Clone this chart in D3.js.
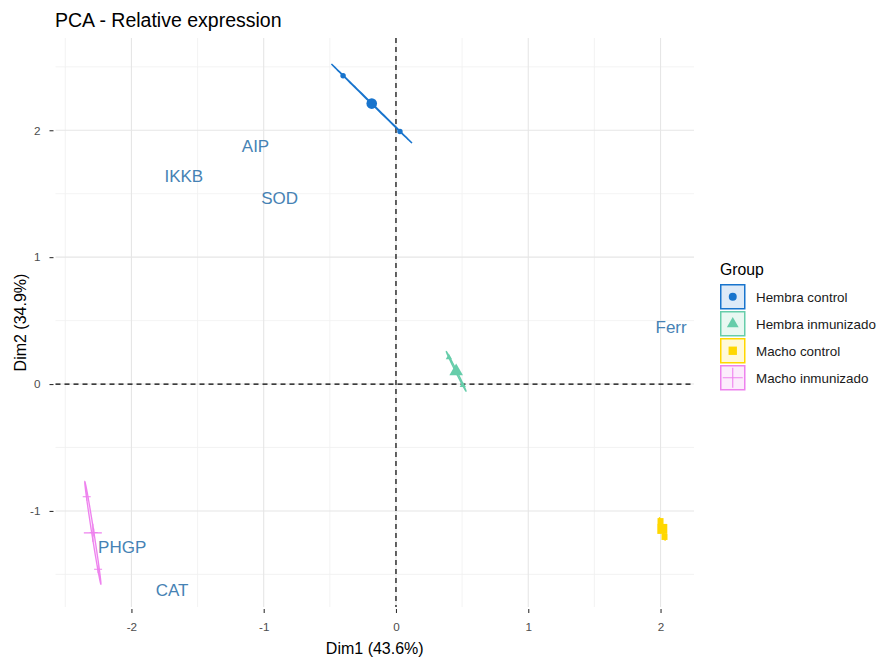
<!DOCTYPE html>
<html>
<head>
<meta charset="utf-8">
<script src="https://cdn.jsdelivr.net/npm/d3@7"></script>
<style>
  body { margin: 0; background: #fff; }
  text { font-family: "Liberation Sans", Arial, sans-serif; }
</style>
</head>
<body>
<svg id="chart" width="878" height="658"></svg>
<script>
// PCA biplot, individuals grouped + variable labels
const groups = ["Hembra control", "Hembra inmunizado", "Macho control", "Macho inmunizado"];
const groupColors = ["#1874CD", "#66CDAA", "#FFD700", "#EE82EE"];
const groupShapes = ["circle", "triangle", "square", "plus"];

// individuals [Dim1, Dim2]
const hembraControl = [[-0.40, 2.43], [-0.18, 2.21], [0.03, 1.99]];
const hembraInmunizado = [[0.40, 0.21], [0.46, 0.10], [0.505, -0.01]];
const machoControl = [[2.00, -1.08], [2.01, -1.14], [2.03, -1.205]];
const machoInmunizado = [[-2.338, -0.888], [-2.285, -1.17], [-2.252, -1.46]];
const groupPoints = [hembraControl, hembraInmunizado, machoControl, machoInmunizado];

const variables = ["AIP", "IKKB", "SOD", "Ferr", "PHGP", "CAT"];
const varDim1 = [-1.062, -1.604, -0.879, 2.08, -2.07, -1.693];
const varDim2 = [1.878, 1.639, 1.466, 0.45, -1.284, -1.623];

const xTicks = [-2, -1, 0, 1, 2];
const yTicks = [-1, 0, 1, 2];

const svg = d3.select("#chart");
const W = 878, H = 658;
const panel = { left: 55.5, right: 694, top: 38, bottom: 607 };

const x = d3.scaleLinear().domain([-2.574, 2.253]).range([panel.left, panel.right]);
const y = d3.scaleLinear().domain([-1.757, 2.727]).range([panel.bottom, panel.top]);

// grid
const g = svg.append("g");
const xMinor = d3.range(-2.5, 2.3, 0.5).filter(v => !Number.isInteger(v));
const yMinor = d3.range(-1.5, 2.8, 0.5).filter(v => !Number.isInteger(v));
g.selectAll(".xminor").data(xMinor).join("line")
  .attr("x1", d => x(d)).attr("x2", d => x(d))
  .attr("y1", panel.top).attr("y2", panel.bottom)
  .attr("stroke", "#F0F0F0").attr("stroke-width", 0.8);
g.selectAll(".yminor").data(yMinor).join("line")
  .attr("y1", d => y(d)).attr("y2", d => y(d))
  .attr("x1", panel.left).attr("x2", panel.right)
  .attr("stroke", "#F0F0F0").attr("stroke-width", 0.8);
g.selectAll(".xmajor").data(xTicks).join("line")
  .attr("x1", d => x(d)).attr("x2", d => x(d))
  .attr("y1", panel.top).attr("y2", panel.bottom)
  .attr("stroke", "#E6E6E6").attr("stroke-width", 1.1);
g.selectAll(".ymajor").data(yTicks).join("line")
  .attr("y1", d => y(d)).attr("y2", d => y(d))
  .attr("x1", panel.left).attr("x2", panel.right)
  .attr("stroke", "#E6E6E6").attr("stroke-width", 1.1);

// axes (ticks + labels only)
const xAxis = svg.append("g")
  .attr("transform", `translate(0,${panel.bottom + 2})`)
  .call(d3.axisBottom(x).tickValues(xTicks).tickSize(4).tickPadding(10).tickFormat(d3.format("d")));
const yAxis = svg.append("g")
  .attr("transform", `translate(${panel.left - 2},0)`)
  .call(d3.axisLeft(y).tickValues(yTicks).tickSize(4).tickPadding(9).tickFormat(d3.format("d")));
[xAxis, yAxis].forEach(a => {
  a.select(".domain").remove();
  a.selectAll(".tick line").attr("stroke", "#333").attr("stroke-width", 1.1);
  a.selectAll(".tick text").attr("fill", "#4D4D4D").style("font-size", "11.7px")
    .style("font-family", '"Liberation Sans", Arial, sans-serif');
});
xAxis.selectAll(".tick text").text(d => d < 0 ? "-" + Math.abs(d) : d);
yAxis.selectAll(".tick text").text(d => d < 0 ? "-" + Math.abs(d) : d);

// reference dashed lines
svg.append("line")
  .attr("x1", x(0)).attr("x2", x(0)).attr("y1", panel.top).attr("y2", panel.bottom)
  .attr("stroke", "#000").attr("stroke-width", 1.2).attr("stroke-dasharray", "5,4");
svg.append("line")
  .attr("y1", y(0)).attr("y2", y(0)).attr("x1", panel.left).attr("x2", panel.right)
  .attr("stroke", "#000").attr("stroke-width", 1.2).attr("stroke-dasharray", "5,4");

// confidence ellipse around group mean
function ellipsePath(pts) {
  const n = pts.length;
  const mx = d3.mean(pts, p => p[0]), my = d3.mean(pts, p => p[1]);
  let a = 0, b = 0, c = 0;
  pts.forEach(p => {
    const dx = p[0] - mx, dy = p[1] - my;
    a += dx * dx; b += dx * dy; c += dy * dy;
  });
  a /= (n - 1) * n; b /= (n - 1) * n; c /= (n - 1) * n;
  const tr = (a + c) / 2, det = Math.sqrt(((a - c) / 2) ** 2 + b * b);
  const l1 = tr + det, l2 = Math.max(tr - det, 0);
  const th = 0.5 * Math.atan2(2 * b, a - c);
  const k = Math.sqrt(5.991);
  const out = d3.range(0, 100).map(i => {
    const t = i / 100 * 2 * Math.PI;
    const u = k * Math.sqrt(l1) * Math.cos(t), v = k * Math.sqrt(l2) * Math.sin(t);
    return [x(mx + u * Math.cos(th) - v * Math.sin(th)), y(my + u * Math.sin(th) + v * Math.cos(th))];
  });
  return d3.line().curve(d3.curveLinearClosed)(out);
}

function shapePath(shape, s) {
  if (shape === "plus") return `M${-s},0H${s}M0,${-s}V${s}`;
  const type = shape === "circle" ? d3.symbolCircle : shape === "triangle" ? d3.symbolTriangle : d3.symbolSquare;
  return d3.symbol(type, s)();
}
const smallSize = { circle: 23, triangle: 17, square: 36, plus: 4 };
const bigSize = { circle: 88, triangle: 80, square: 100, plus: 9 };

function drawMarker(sel, shape, color, s) {
  const p = sel.append("path").attr("d", shapePath(shape, s));
  if (shape === "plus") p.attr("fill", "none").attr("stroke", color).attr("stroke-width", 1.1);
  else p.attr("fill", color);
  return p;
}

groups.forEach((gr, i) => {
  const pts = groupPoints[i];
  const col = groupColors[i], shape = groupShapes[i];
  svg.append("path").attr("d", ellipsePath(pts))
    .attr("fill", col).attr("fill-opacity", 0.2)
    .attr("stroke", col).attr("stroke-width", 1.3);
  const grp = svg.append("g");
  pts.forEach(p => {
    const m = grp.append("g").attr("transform", `translate(${x(p[0])},${y(p[1])})`);
    drawMarker(m, shape, col, smallSize[shape]);
  });
  const cx = d3.mean(pts, p => p[0]), cy = d3.mean(pts, p => p[1]);
  const m = grp.append("g").attr("transform", `translate(${x(cx)},${y(cy)})`);
  drawMarker(m, shape, col, bigSize[shape]);
});

// variable labels
svg.append("g").selectAll("text").data(variables).join("text")
  .attr("x", (d, i) => x(varDim1[i]))
  .attr("y", (d, i) => y(varDim2[i]))
  .attr("dy", "0.36em")
  .attr("text-anchor", "middle")
  .attr("fill", "#4682B4")
  .style("font-size", "17px")
  .text(d => d);

// title + axis titles
svg.append("text").attr("x", 55).attr("y", 26.5)
  .style("font-size", "19.5px").attr("fill", "#000").text("PCA - Relative expression");
svg.append("text").attr("x", (panel.left + panel.right) / 2).attr("y", 654)
  .attr("text-anchor", "middle").style("font-size", "16px").attr("fill", "#000")
  .text("Dim1 (43.6%)");
svg.append("text")
  .attr("transform", `translate(26,${(panel.top + panel.bottom) / 2}) rotate(-90)`)
  .attr("text-anchor", "middle").style("font-size", "16px").attr("fill", "#000")
  .text("Dim2 (34.9%)");

// legend
const leg = svg.append("g").attr("transform", "translate(720,284)");
leg.append("text").attr("x", 0).attr("y", -9).style("font-size", "15.8px").attr("fill", "#000").text("Group");
groups.forEach((gr, i) => {
  const row = leg.append("g").attr("transform", `translate(0,${i * 27})`);
  row.append("rect").attr("x", 0.75).attr("y", 0.75).attr("width", 24).attr("height", 24)
    .attr("fill", groupColors[i]).attr("fill-opacity", 0.15)
    .attr("stroke", groupColors[i]).attr("stroke-width", 1.5);
  const m = row.append("g").attr("transform", "translate(12.75,12.75)");
  const ks = { circle: 50, triangle: 60, square: 70, plus: 10 };
  drawMarker(m, groupShapes[i], groupColors[i], ks[groupShapes[i]]);
  row.append("text").attr("x", 36).attr("y", 13).attr("dy", "0.35em")
    .style("font-size", "13.4px").attr("fill", "#1A1A1A").text(gr);
});
</script>
</body>
</html>
